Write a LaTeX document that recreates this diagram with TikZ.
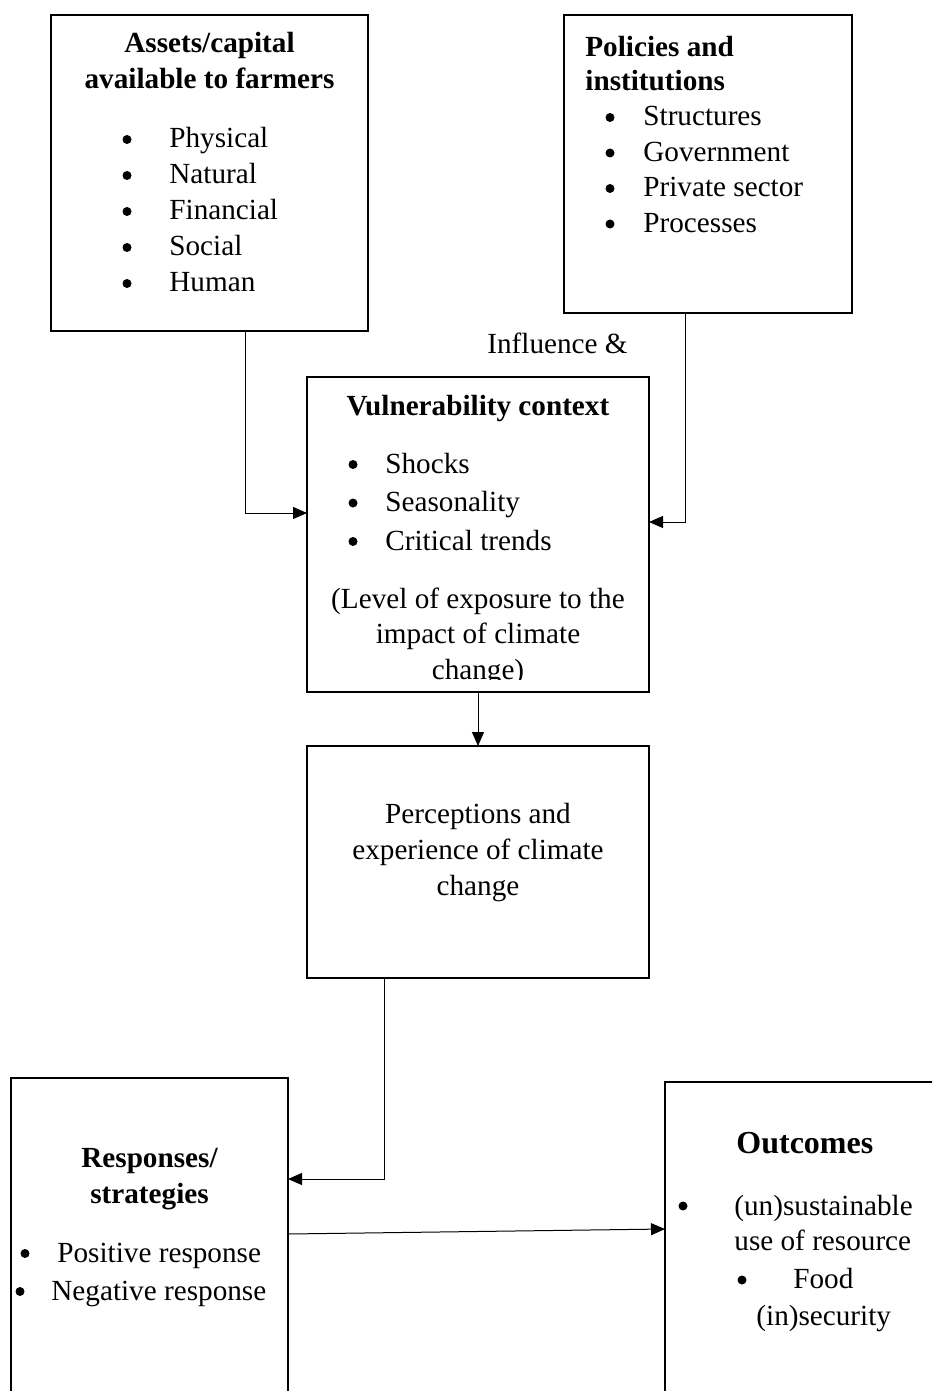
\documentclass[tikz,border=0pt]{standalone}
\usepackage{fontspec}
\setmainfont{Liberation Serif}
\usetikzlibrary{arrows.meta}
\tikzset{
  box/.style={draw,line width=1pt,inner sep=0pt,outer sep=0pt},
  txt/.style={font=\fontsize{14.6}{18}\selectfont,inner sep=0pt},
  hd/.style={inner sep=0pt,font=\fontsize{14.6}{18}\selectfont\bfseries},
  dot/.style={circle,fill,inner sep=0pt,minimum size=4.5pt},
  arr/.style={line width=0.5pt,-{Triangle[length=7pt,width=6pt]}}
}
\begin{document}
\begin{tikzpicture}[x=0.5pt,y=-0.5pt]
            \clip (0,0) rectangle (932,1391);
            \fill[white] (0,0) rectangle (932,1391);
            \node[box,minimum width=158.5pt,minimum height=158pt] (assets) at (209.5,173) {};
            \node[box,minimum width=144pt,minimum height=149pt] (policy) at (708,164) {};
            \node[box,minimum width=171pt,minimum height=157.5pt] (vuln) at (478,534.5) {};
            \node[box,minimum width=171pt,minimum height=116pt] (percep) at (478,862) {};
            \node[box,minimum width=138.5pt,minimum height=171pt] (resp) at (149.5,1249) {};
            \node[box,minimum width=147.5pt,minimum height=169pt] (outc) at (812.5,1251) {};
            \node[hd,anchor=base,align=center] (assetshd) at (209.5,89) {Assets/capital\\available to farmers};
            \foreach \t [count=\i] in {Physical,Natural,Financial,Social,Human} {
                \node[dot] (assetdot\i) at (127,{103.5+36*\i}) {};
                \node[txt,anchor=base west] (asset\i) at (169,{112+36*\i}) {\t};
            }
            \node[hd,anchor=base west,align=left,font=\fontsize{14.6}{17}\selectfont\bfseries] (policyhd) at (585,91) {Policies and\\institutions};
            \foreach \t [count=\i] in {Structures,Government,Private sector,Processes} {
                \node[dot] (policydot\i) at (610,{82+35.5*\i}) {};
                \node[txt,anchor=base west] (policy\i) at (643,{90.5+35.5*\i}) {\t};
            }
            \node[txt,anchor=base west] (infl) at (487,353) {Influence \&};
            \node[hd,anchor=base] (vulnhd) at (478,415) {Vulnerability context};
            \foreach \t [count=\i] in {Shocks,Seasonality,Critical trends} {
                \node[dot] (vulndot\i) at (353,{426+38.5*\i}) {};
                \node[txt,anchor=base west] (vuln\i) at (385,{434.5+38.5*\i}) {\t};
            }
            \begin{scope}
                \clip (307,377) rectangle (649,679.5);
                \node[txt,anchor=base,align=center,font=\fontsize{14.6}{17.75}\selectfont] (expo) at (478,679) {(Level of exposure to the\\impact of climate\\change)};
            \end{scope}
            \node[txt,anchor=base,align=center] (percepname) at (478,895) {Perceptions and\\experience of climate\\change};
            \node[hd,anchor=base,align=center] (resphd) at (149.5,1203) {Responses/\\strategies};
            \node[dot] (respdot1) at (25,1253.5) {};
            \node[txt,anchor=base west] (resp1) at (57,1262) {Positive response};
            \node[dot] (respdot2) at (20,1291.5) {};
            \node[txt,anchor=base west] (resp2) at (51,1300) {Negative response};
            \node[hd,anchor=base west,font=\fontsize{16}{18}\selectfont\bfseries] (outchd) at (736,1153) {Outcomes};
            \node[dot] (outcdot1) at (683,1206) {};
            \node[txt,anchor=base west,align=left,font=\fontsize{14.6}{17.5}\selectfont] (outc1) at (734,1250) {(un)sustainable\\use of resource};
            \node[dot] (outcdot2) at (742,1280) {};
            \node[txt,anchor=base west] (outc2) at (793,1288) {Food};
            \node[txt,anchor=base west] (outc3) at (756,1325) {(in)security};
            \draw[arr] ([xshift=17.75pt]assets.south) |- ([yshift=10.75pt]vuln.west);
            \draw[arr] ([xshift=-11.5pt]policy.south) |- ([yshift=6.25pt]vuln.east);
            \draw[arr] (vuln.south) -- (percep.north);
            \draw[arr] ([xshift=-47pt]percep.south) |- ([yshift=35pt]resp.east);
            \draw[arr] ([yshift=7.5pt]resp.east) -- ([yshift=11pt]outc.west);
        \end{tikzpicture}
\end{document}
